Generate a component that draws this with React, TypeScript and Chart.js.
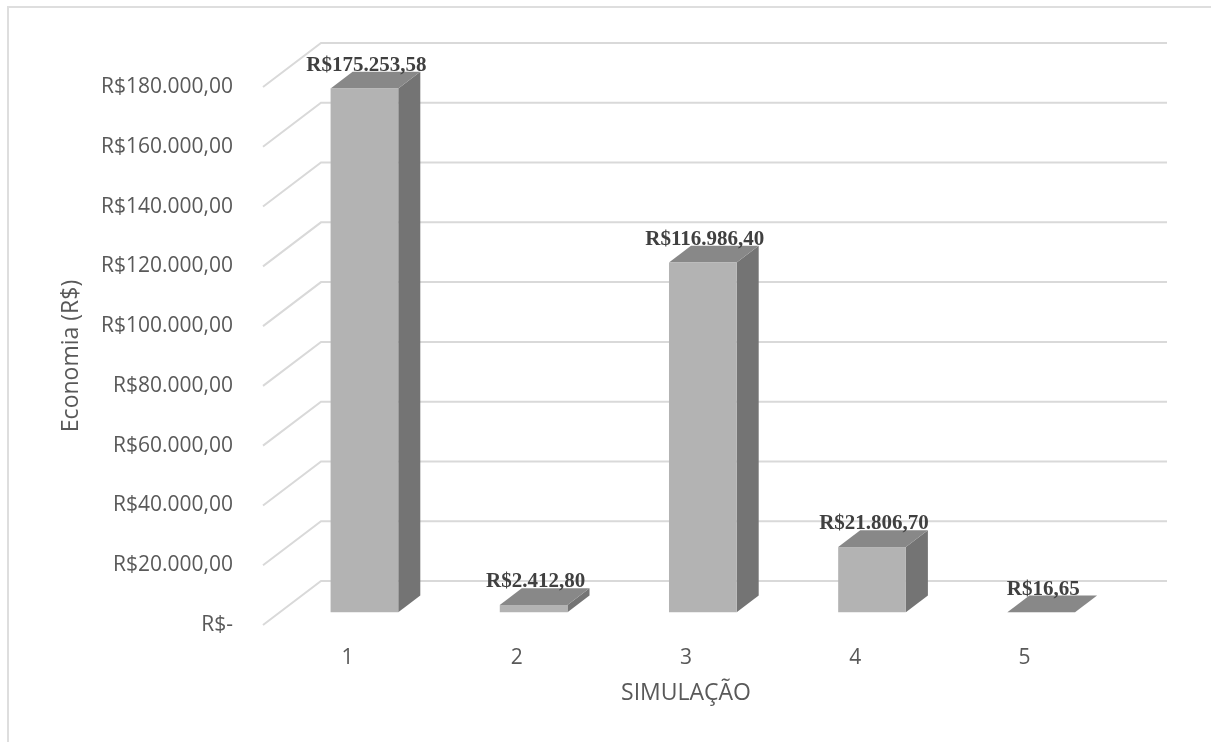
import React, { useEffect, useRef } from 'react';
import { Chart, registerables } from 'chart.js';

Chart.register(...registerables);

// Simulation results (savings in R$)
const simulations = ['1', '2', '3', '4', '5'];
const savings = [175253.58, 2412.8, 116986.4, 21806.7, 16.65];
const yTickValues = [0, 20000, 40000, 60000, 80000, 100000, 120000, 140000, 160000, 180000];

const axisTitleY = 'Economia (R$)';
const axisTitleX = 'SIMULAÇÃO';

// Depth of the 3D box (wall offset) and where each bar sits inside it
const DEPTH_X = 58;
const DEPTH_Y = -44;
const BAR_FRONT = 0.29;
const BAR_BACK = 0.67;

const FRONT_COLOR = '#b3b3b3';
const TOP_COLOR = '#888888';
const SIDE_COLOR = '#747474';
const GRID_COLOR = '#d9d9d9';
const TEXT_COLOR = '#595959';
const LABEL_COLOR = '#404040';

function brl(v: number, decimals: number): string {
  const fixed = v.toFixed(decimals);
  const [intPart, frac] = fixed.split('.');
  const grouped = intPart.replace(/\B(?=(\d{3})+(?!\d))/g, '.');
  return frac ? `${grouped},${frac}` : grouped;
}

const tickLabel = (v: number) => (v === 0 ? 'R$-' : 'R$' + brl(v, 2));
const valueLabel = (v: number) => 'R$' + brl(v, 2);

const box3dPlugin = {
  id: 'box3d',
  beforeDatasetsDraw(chart: any) {
    const { ctx, chartArea, scales } = chart;
    const yScale = scales.y;
    ctx.save();
    ctx.strokeStyle = GRID_COLOR;
    ctx.lineWidth = 2;
    yScale.ticks.forEach((t: any) => {
      const py = yScale.getPixelForValue(t.value);
      ctx.beginPath();
      ctx.moveTo(chartArea.left, py);
      ctx.lineTo(chartArea.left + DEPTH_X, py + DEPTH_Y);
      ctx.lineTo(chartArea.right + DEPTH_X, py + DEPTH_Y);
      ctx.stroke();
    });
    ctx.restore();
  },
  afterDatasetsDraw(chart: any) {
    const { ctx } = chart;
    const meta = chart.getDatasetMeta(0);
    const values = chart.data.datasets[0].data as number[];
    const fx = BAR_FRONT * DEPTH_X;
    const fy = BAR_FRONT * DEPTH_Y;
    const bx = (BAR_BACK - BAR_FRONT) * DEPTH_X;
    const by = (BAR_BACK - BAR_FRONT) * DEPTH_Y;
    ctx.save();
    meta.data.forEach((el: any, i: number) => {
      const { x, y, base, width } = el.getProps(['x', 'y', 'base', 'width'], true);
      const L = x - width / 2 + fx;
      const R = x + width / 2 + fx;
      const T = y + fy;
      const B = base + fy;

      // right side face
      ctx.fillStyle = SIDE_COLOR;
      ctx.beginPath();
      ctx.moveTo(R, T);
      ctx.lineTo(R + bx, T + by);
      ctx.lineTo(R + bx, B + by);
      ctx.lineTo(R, B);
      ctx.closePath();
      ctx.fill();

      // top face
      ctx.fillStyle = TOP_COLOR;
      ctx.beginPath();
      ctx.moveTo(L, T);
      ctx.lineTo(R, T);
      ctx.lineTo(R + bx, T + by);
      ctx.lineTo(L + bx, T + by);
      ctx.closePath();
      ctx.fill();

      // front face
      ctx.fillStyle = FRONT_COLOR;
      ctx.fillRect(L, T, R - L, B - T);

      // value label
      ctx.fillStyle = LABEL_COLOR;
      ctx.font = "bold 21px 'Liberation Serif', 'Times New Roman', serif";
      ctx.textAlign = 'center';
      ctx.textBaseline = 'middle';
      ctx.fillText(valueLabel(values[i]), (L + R) / 2 + 2, T - 23);
    });
    ctx.restore();
  },
};

export default function App() {
  const canvasRef = useRef<HTMLCanvasElement | null>(null);

  useEffect(() => {
    if (!canvasRef.current) return;
    const tickFont = { family: "'Open Sans', sans-serif", size: 21 };
    const titleFont = { family: "'Open Sans', sans-serif", size: 23 };
    const chart = new Chart(canvasRef.current, {
      type: 'bar',
      data: {
        labels: simulations,
        datasets: [
          {
            data: savings,
            backgroundColor: 'rgba(0,0,0,0)',
            borderWidth: 0,
            barPercentage: 0.4,
            categoryPercentage: 1.0,
          },
        ],
      },
      options: {
        animation: false,
        responsive: false,
        maintainAspectRatio: false,
        devicePixelRatio: 1,
        layout: { padding: { left: 58, right: 102, top: 87, bottom: 35 } },
        plugins: {
          legend: { display: false },
          tooltip: { enabled: false },
        },
        scales: {
          x: {
            grid: { display: false, drawTicks: false },
            border: { display: false },
            ticks: { color: TEXT_COLOR, font: tickFont, padding: 20 },
            title: {
              display: true,
              text: axisTitleX,
              color: TEXT_COLOR,
              font: titleFont,
              padding: 0,
            },
            afterFit: (scale: any) => {
              scale.height = 82;
            },
          },
          y: {
            min: 0,
            max: 180000,
            afterBuildTicks: (scale: any) => {
              scale.ticks = yTickValues.map((v) => ({ value: v }));
            },
            grid: { display: false, drawTicks: false },
            border: { display: false },
            ticks: {
              color: TEXT_COLOR,
              font: tickFont,
              padding: 30,
              callback: (v: any) => tickLabel(Number(v)),
            },
            title: {
              display: true,
              text: axisTitleY,
              color: TEXT_COLOR,
              font: titleFont,
              padding: 0,
            },
            afterFit: (scale: any) => {
              scale.width = 205;
            },
          },
        },
      },
      plugins: [box3dPlugin],
    });
    return () => chart.destroy();
  }, []);

  return (
    <div>
      <div
        style={{
          position: 'absolute',
          left: 7,
          top: 6,
          width: 1204,
          height: 736,
          borderTop: '2px solid #dedede',
          borderLeft: '2px solid #dedede',
          boxSizing: 'border-box',
        }}
      />
      <canvas
        ref={canvasRef}
        width={1211}
        height={742}
        style={{ position: 'absolute', left: 0, top: 0, width: 1211, height: 742, display: 'block' }}
      />
    </div>
  );
}
